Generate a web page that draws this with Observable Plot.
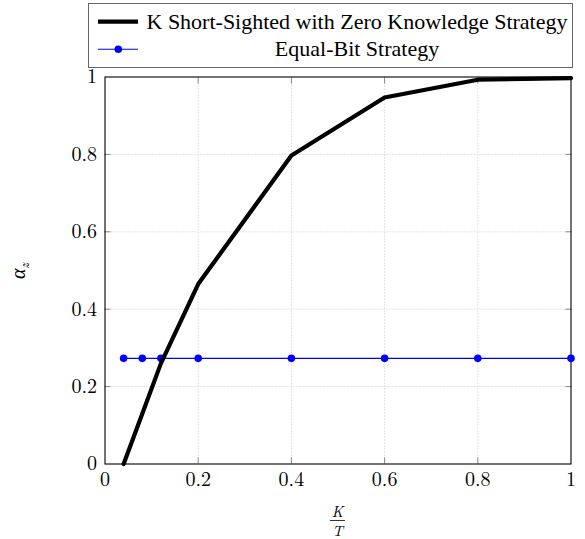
<!DOCTYPE html>
<html>
<head>
<meta charset="utf-8">
<script src="https://cdn.jsdelivr.net/npm/d3@7"></script>
<script src="https://cdn.jsdelivr.net/npm/@observablehq/plot@0.6"></script>
<style>
  html, body { margin: 0; padding: 0; background: #fff; }
</style>
</head>
<body>
<div id="wrap" style="position: relative; width: 585px; height: 539px;">
  <div id="chart"></div>
</div>
<script>
// ---- data ----
const seriesNames = ["K Short-Sighted with Zero Knowledge Strategy", "Equal-Bit Strategy"];
const kRatio = [0.04, 0.08, 0.12, 0.2, 0.4, 0.6, 0.8, 1.0];
const shortSighted = [0, 0.13, 0.26, 0.465, 0.797, 0.947, 0.993, 0.997];
const equalBit = [0.273, 0.273, 0.273, 0.273, 0.273, 0.273, 0.273, 0.273];
const xTickLabels = [0, 0.2, 0.4, 0.6, 0.8, 1];
const yTickLabels = [0, 0.2, 0.4, 0.6, 0.8, 1];
const innerTicks = [0.2, 0.4, 0.6, 0.8];

const ssData = kRatio.map((x, i) => ({x, y: shortSighted[i]}));
const ebData = kRatio.map((x, i) => ({x, y: equalBit[i]}));

const mathFont = "'Latin Modern Roman', 'Liberation Serif', serif";
const textFont = "'Liberation Serif', 'Times New Roman', serif";
const gridStyle = {stroke: "#bbb", strokeOpacity: 1, strokeWidth: 0.8, strokeDasharray: "1,2"};
const tickStyle = {stroke: "#888", strokeWidth: 1, tickSize: -6, tickFormat: () => "", label: null};

const plot = Plot.plot({
  width: 585,
  height: 539,
  marginLeft: 104.5,
  marginRight: 14.5,
  marginTop: 76.5,
  marginBottom: 75.5,
  style: {fontFamily: mathFont, fontSize: "20px", color: "#000", background: "#fff"},
  x: {domain: [0, 1]},
  y: {domain: [0, 1]},
  marks: [
    Plot.ruleX(innerTicks, gridStyle),
    Plot.ruleY(innerTicks, gridStyle),
    Plot.axisX(innerTicks, {anchor: "bottom", ...tickStyle}),
    Plot.axisX(innerTicks, {anchor: "top", ...tickStyle}),
    Plot.axisY(innerTicks, {anchor: "left", ...tickStyle}),
    Plot.axisY(innerTicks, {anchor: "right", ...tickStyle}),
    Plot.axisX(xTickLabels, {anchor: "bottom", tickSize: 0, tickPadding: 8, label: null, fontSize: 20, fontFamily: mathFont, tickFormat: d => String(d)}),
    Plot.axisY(yTickLabels, {anchor: "left", tickSize: 0, tickPadding: 8, label: null, fontSize: 20, fontFamily: mathFont, tickFormat: d => String(d)}),
    Plot.frame({stroke: "#000", strokeWidth: 1.1}),
    Plot.line(ebData, {x: "x", y: "y", stroke: "#0000ff", strokeWidth: 1.1}),
    Plot.dot(ebData, {x: "x", y: "y", fill: "#0000ff", r: 3.8}),
    Plot.line(ssData, {x: "x", y: "y", stroke: "#000", strokeWidth: 4.2, strokeLinejoin: "miter"})
  ]
});
document.getElementById("chart").appendChild(plot);

const svg = d3.select(plot);
svg.selectAll("text").style("font-family", mathFont);

// y axis title: alpha_z
const yl = svg.append("text")
  .attr("transform", "translate(25,271) rotate(-90)")
  .attr("text-anchor", "middle")
  .style("font-family", mathFont)
  .attr("font-size", 20)
  .attr("fill", "#000");
yl.append("tspan").attr("font-style", "italic").text("α");
yl.append("tspan").attr("font-style", "italic").attr("font-size", 14).attr("dy", 4).text("z");

// x axis title: K / T (fraction) as one text element
const fx = 337.5;
const frac = svg.append("text").attr("text-anchor", "middle")
  .style("font-family", mathFont).attr("font-style", "italic").attr("font-size", 15).attr("fill", "#000");
frac.append("tspan").attr("x", fx).attr("y", 517).text("K");
frac.append("tspan").attr("x", fx).attr("y", 535.5).text("T");
svg.append("line").attr("x1", fx - 7.5).attr("x2", fx + 7.5).attr("y1", 520.5).attr("y2", 520.5)
  .attr("stroke", "#000").attr("stroke-width", 0.8);

// legend (drawn on top of the plot, as in the reference)
const lg = svg.append("g");
lg.append("rect").attr("x", 88.5).attr("y", 3.5).attr("width", 484).attr("height", 64)
  .attr("fill", "#fff").attr("stroke", "#666").attr("stroke-width", 1);
lg.append("line").attr("x1", 98).attr("x2", 138).attr("y1", 21.7).attr("y2", 21.7)
  .attr("stroke", "#000").attr("stroke-width", 4.2);
lg.append("line").attr("x1", 98).attr("x2", 138).attr("y1", 49.3).attr("y2", 49.3)
  .attr("stroke", "#0000ff").attr("stroke-width", 1.1);
lg.append("circle").attr("cx", 118.3).attr("cy", 49.3).attr("r", 3.8).attr("fill", "#0000ff");
lg.selectAll("text.leg").data(seriesNames).join("text")
  .attr("class", "leg")
  .attr("x", 357)
  .attr("y", (d, i) => i === 0 ? 28.5 : 55.5)
  .attr("text-anchor", "middle")
  .style("font-family", textFont)
  .attr("font-size", 22)
  .attr("fill", "#000")
  .text(d => d);
</script>
</body>
</html>
